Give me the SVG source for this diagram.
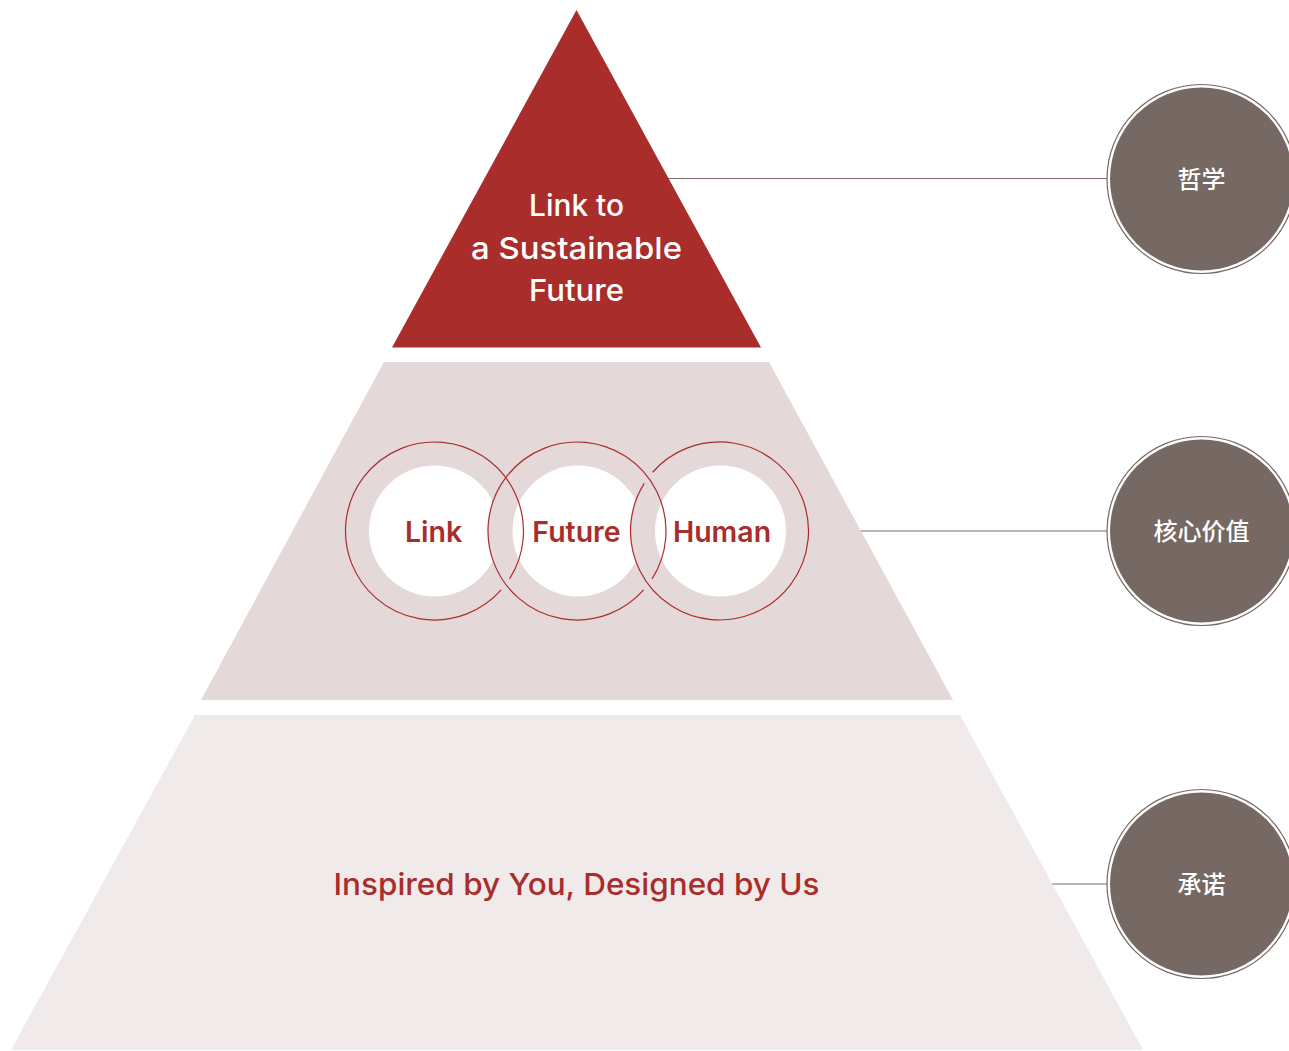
<svg xmlns="http://www.w3.org/2000/svg" width="1289" height="1051" viewBox="0 0 1289 1051">
<style>
.tier-text{font-family:Inter,"Open Sans","Liberation Sans",sans-serif;font-size:30px;font-weight:500;text-anchor:middle}
.ring-text{font-family:Inter,"Liberation Sans",sans-serif;font-size:28.5px;font-weight:600;fill:#A82D2B;text-anchor:middle}
.cn{font-family:"Noto Sans CJK SC","Noto Sans",sans-serif;font-size:24px;font-weight:500;fill:#FFFFFF;text-anchor:middle}
.ring{fill:none;stroke:#A82D2B;stroke-width:1.2}
.disc-band{fill:#E5D8D9}
.disc-white{fill:#FFFFFF}
.badge{fill:#766862}
.badge-ring{fill:none;stroke:#766862;stroke-width:1.2}
.conn{stroke:#7a6a66;stroke-width:1.2;fill:none}
</style>
<rect width="1289" height="1051" fill="#FFFFFF"/>

<g id="connectors">
<line class="conn" x1="668" y1="178.5" x2="1107" y2="178.5"/>
<line class="conn" x1="860" y1="531" x2="1107" y2="531"/>
<line class="conn" x1="1051" y1="884" x2="1107" y2="884"/>
</g>

<g id="tier-top">
<polygon points="576.5,10 761,347.5 392,347.5" fill="#A82D2B"/>
<text class="tier-text" fill="#FFFFFF" x="576.5" y="216" textLength="95" lengthAdjust="spacingAndGlyphs">Link to</text>
<text class="tier-text" fill="#FFFFFF" x="576.5" y="258.5" textLength="211" lengthAdjust="spacingAndGlyphs">a Sustainable</text>
<text class="tier-text" fill="#FFFFFF" x="576.5" y="300.5" textLength="95" lengthAdjust="spacingAndGlyphs">Future</text>
</g>

<g id="tier-middle">
<polygon points="384,362 769,362 953,700 201,700" fill="#E5D8D9"/>
</g>

<g id="values">
<g id="value-link">
<circle class="disc-band" cx="434.5" cy="531" r="89"/>
<circle class="disc-white" cx="434.5" cy="531" r="65.5"/>
</g>
<g id="value-future">
<circle class="disc-band" cx="577" cy="531" r="89"/>
<circle class="disc-white" cx="578" cy="531" r="65.5"/>
</g>
<g id="value-human">
<circle class="disc-band" cx="719.5" cy="531" r="89"/>
<circle class="disc-white" cx="720.5" cy="531" r="65.5"/>
</g>
<path class="ring" d="M501.16,589.97 A89,89 0 1 1 509.56,578.82"/>
<path class="ring" d="M643.66,589.97 A89,89 0 1 1 652.06,578.82"/>
<path class="ring" d="M652.63,472.26 A89,89 0 1 1 644.27,483.44"/>
<text class="ring-text" x="433.5" y="541.5">Link</text>
<text class="ring-text" x="576.5" y="541.5">Future</text>
<text class="ring-text" x="722" y="541.5">Human</text>
</g>

<g id="tier-bottom">
<polygon points="195,715 960,715 1143,1050 11,1050" fill="#F0EAEA"/>
<text class="tier-text" fill="#A82D2B" x="576.5" y="895" textLength="486" lengthAdjust="spacingAndGlyphs">Inspired by You, Designed by Us</text>
</g>

<g id="badge-philosophy">
<circle class="badge-ring" cx="1201.5" cy="179" r="94.5"/>
<circle class="badge" cx="1201.5" cy="179" r="91.5"/>
<text class="cn" x="1201.5" y="187.5">哲学</text>
</g>
<g id="badge-core-values">
<circle class="badge-ring" cx="1201.5" cy="531" r="94.5"/>
<circle class="badge" cx="1201.5" cy="531" r="91.5"/>
<text class="cn" x="1201.5" y="539.5">核心价值</text>
</g>
<g id="badge-commitment">
<circle class="badge-ring" cx="1201.5" cy="884" r="94.5"/>
<circle class="badge" cx="1201.5" cy="884" r="91.5"/>
<text class="cn" x="1201.5" y="892.5">承诺</text>
</g>
</svg>
